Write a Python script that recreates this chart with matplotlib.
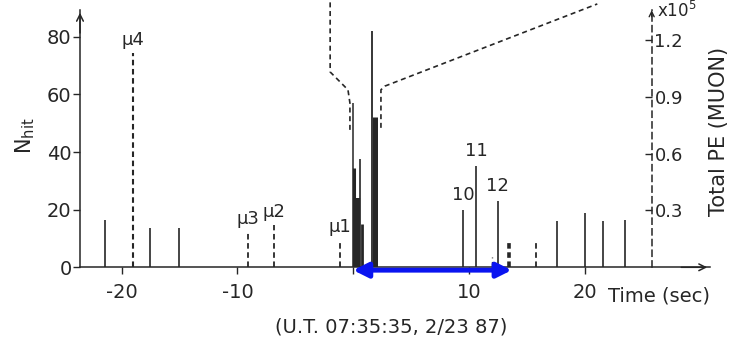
import matplotlib
matplotlib.use("Agg")
import matplotlib.pyplot as plt

plt.rcParams['font.family'] = ['DejaVu Sans']
plt.rcParams['axes.unicode_minus'] = False

INK = '#262626'

# neutrino burst events (time in sec, N_hit)
burst_t = [-0.05, 0.07, 0.35, 0.59, 0.76, 1.62, 1.88]
burst_nhit = [57, 34.5, 24, 37.6, 15, 82, 52]
burst_lw = [1.1, 2.2, 4.5, 1.2, 2.0, 1.3, 3.6]

# other low energy events
event_t = [-21.45, -17.56, -15.05, 9.49, 10.61, 12.49, 17.59, 20.03, 21.56, 23.49]
event_nhit = [16.4, 13.6, 13.6, 19.9, 35.2, 23.0, 16.1, 18.9, 16.1, 16.4]
event_labels = ['', '', '', '10', '11', '12', '', '', '', '']

# muon events (dashed)
muon_t = [-19.06, -9.09, -6.85, -1.14, 12.0, 13.47, 15.8]
muon_nhit = [74.4, 12.3, 14.7, 9.5, 3.6, 9.5, 9.5]
muon_labels = ['\u03bc4', '\u03bc3', '\u03bc2', '\u03bc1', '', '', '']
muon_lw = [1.5, 1.3, 1.3, 1.3, 1.0, 2.6, 1.3]

# off-scale muon PE traces
break1_t = [-0.28, -0.28, -0.45, -1.99, -1.99]
break1_y = [47.7, 57.0, 61.6, 67.8, 93.0]
break2_t = [2.4, 2.4, 2.75, 21.1]
break2_y = [48.4, 61.6, 62.9, 91.4]

# total PE axis (x10^5)
pe_ticks = [0.3, 0.6, 0.9, 1.2]
pe_per_nhit = 1.2 / 78.9
pe_axis_t = 25.8

x_ticks = [-20, -10, 0, 10, 20]
x_ticklabels = ['-20', '-10', '', '10', '20']
y_ticks = [0, 20, 40, 60, 80]

XMIN, XMAX = -23.61, 30.84
YMAX = 89.3

fig = plt.figure(figsize=(7.3, 3.45), dpi=100)
ax = fig.add_axes([80 / 730, 77.7 / 345, 630 / 730, 257.3 / 345])
ax.set_xlim(XMIN, XMAX)
ax.set_ylim(0, YMAX)

for s in ['top', 'right']:
    ax.spines[s].set_visible(False)
for s in ['left', 'bottom']:
    ax.spines[s].set_color(INK)
    ax.spines[s].set_linewidth(1.1)

ax.set_xticks(x_ticks)
ax.set_xticklabels(x_ticklabels)
ax.set_yticks(y_ticks)
ax.tick_params(axis='both', direction='out', length=5, width=1.0, color=INK,
               labelsize=14, labelcolor=INK)
ax.tick_params(axis='x', pad=6)
ax.tick_params(axis='y', pad=1)

# axis arrows
ax.annotate('', xy=(0, 1.0), xytext=(0, 0.9), xycoords='axes fraction',
            arrowprops=dict(arrowstyle='->', lw=1.1, color=INK, mutation_scale=12))
ax.annotate('', xy=(1.0, 0), xytext=(0.95, 0), xycoords='axes fraction',
            arrowprops=dict(arrowstyle='->', lw=1.1, color=INK, mutation_scale=12))

# off-scale traces
for bt, by in [(break1_t, break1_y), (break2_t, break2_y)]:
    ax.plot(bt, by, ls=(0, (3, 2.2)), lw=1.2, color=INK, clip_on=False)

# muon events, dash length kept about the same whatever the width
for t, n, lab, lw in zip(muon_t, muon_nhit, muon_labels, muon_lw):
    dash = (0, (4.0 / lw, 2.6 / lw))
    ax.vlines(t, 0, n, colors=INK, lw=lw, linestyles=[dash])
    if lab:
        ax.annotate(lab, (t, n), xytext=(0, 3), textcoords='offset points',
                    ha='center', va='bottom', fontsize=13, color=INK)

# events
for t, n, lab in zip(event_t, event_nhit, event_labels):
    ax.vlines(t, 0, n, colors=INK, lw=1.2)
    if lab:
        ax.annotate(lab, (t, n), xytext=(0, 4), textcoords='offset points',
                    ha='center', va='bottom', fontsize=13, color=INK)

for t, n, lw in zip(burst_t, burst_nhit, burst_lw):
    ax.vlines(t, 0, n, colors=INK, lw=lw)

# total PE axis
sec = ax.secondary_yaxis((pe_axis_t - XMIN) / (XMAX - XMIN),
                         functions=(lambda y: y * pe_per_nhit, lambda p: p / pe_per_nhit))
sec.spines['right'].set_linestyle((0, (4, 3)))
sec.spines['right'].set_linewidth(1.1)
sec.spines['right'].set_color(INK)
sec.set_yticks(pe_ticks)
sec.set_yticklabels(['%.1f' % p for p in pe_ticks])
sec.tick_params(direction='in', length=5, width=1.0, color=INK, labelsize=13,
                labelcolor=INK, pad=2)
ax.annotate('', xy=(pe_axis_t, 90.2), xytext=(pe_axis_t, 86),
            arrowprops=dict(arrowstyle='->', lw=1.0, color=INK, mutation_scale=9),
            annotation_clip=False)
ax.text(pe_axis_t + 0.5, 89.0, r'x10$^5$', fontsize=12, color=INK, ha='left', va='center')

# blue time window arrow
ax.annotate('', xy=(0.0, -1.0), xytext=(13.7, -1.0),
            arrowprops=dict(arrowstyle='<|-|>', lw=3.5, color='#0a14f0', mutation_scale=22,
                            shrinkA=0, shrinkB=0),
            annotation_clip=False)

ax.text(22.0, -0.112, 'Time (sec)', transform=ax.get_xaxis_transform(),
        ha='left', va='center', fontsize=14, color=INK)

fig.text(25 / 730, 1 - 136 / 345, r'N$_{\mathregular{hit}}$', rotation=90,
         ha='center', va='center', fontsize=15, color=INK)
fig.text(719 / 730, 1 - 131 / 345, 'Total PE (MUON)', rotation=90,
         ha='center', va='center', fontsize=15, color=INK)
fig.text(391 / 730, 1 - 327 / 345, '(U.T. 07:35:35, 2/23 87)',
         ha='center', va='center', fontsize=14, color=INK)

fig.savefig('out.png', dpi=100)
